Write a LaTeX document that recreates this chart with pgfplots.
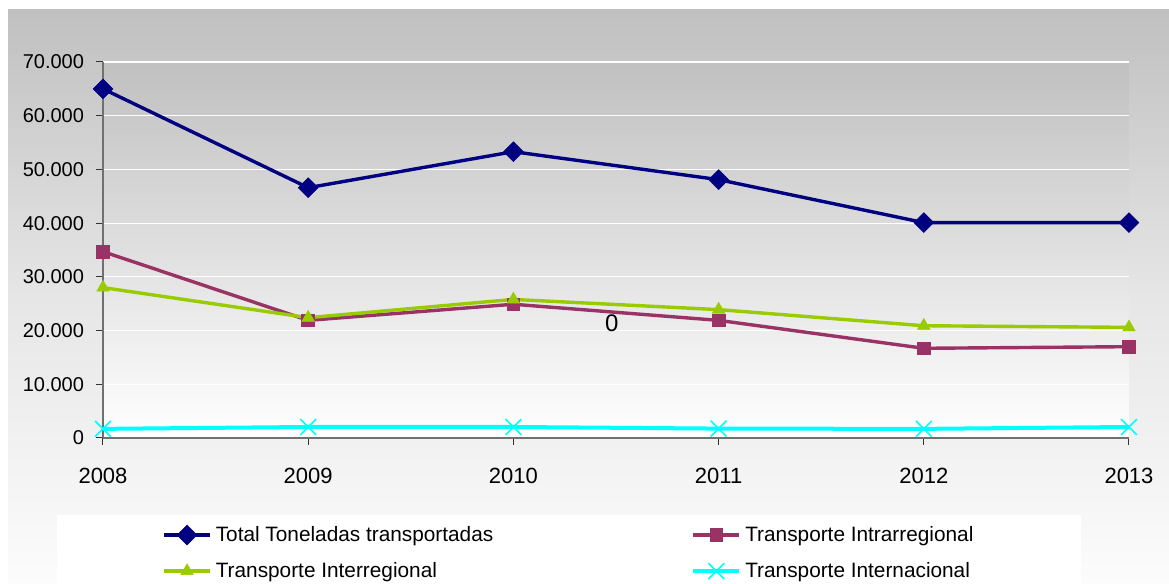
\documentclass[border=0pt]{standalone}
\usepackage{pgfplots}
\pgfplotsset{compat=1.18}
\usepackage{fontspec}
\setmainfont{Liberation Sans}

\definecolor{totalc}{HTML}{000080}
\definecolor{intrac}{HTML}{993366}
\definecolor{interc}{HTML}{99CC00}
\definecolor{internc}{HTML}{00FFFF}
\definecolor{bgtop}{HTML}{C0C0C0}
\definecolor{bgmid}{HTML}{E6E6E6}
\definecolor{bgbot}{HTML}{FCFCFC}
\definecolor{axisc}{HTML}{707070}

% chart area background: gray at the top fading to almost white
\pgfdeclareverticalshading{chartbg}{100bp}{color(0bp)=(bgbot); color(25bp)=(bgbot); color(50bp)=(bgmid); color(75bp)=(bgtop); color(100bp)=(bgtop)}

\begin{document}
\begin{tikzpicture}
\path[use as bounding box] (0,0) rectangle (584.5pt,292pt);
\fill[white] (0,0) rectangle (584.5pt,292pt);
\shade[shading=chartbg] (4pt,0) rectangle (584.5pt,287pt);
% legend panel
\fill[white] (28.5pt,0) rectangle (540.5pt,34.5pt);

\begin{axis}[
  at={(51.5pt,73pt)}, anchor=south west,
  scale only axis, width=513pt, height=188pt,
  xmin=2008, xmax=2013, ymin=0, ymax=70000,
  clip=false,
  scaled y ticks=false,
  axis lines=left,
  axis line style={-, draw=axisc, line width=0.7pt},
  axis background/.style={shade, top color=bgtop, bottom color=white},
  xtick={2008,2009,2010,2011,2012,2013},
  xticklabels={2008,2009,2010,2011,2012,2013},
  ytick={0,10000,20000,30000,40000,50000,60000,70000},
  yticklabels={0,10.000,20.000,30.000,40.000,50.000,60.000,70.000},
  /pgf/number format/assume math mode=true,
  tick align=outside,
  major tick length=3.5pt,
  tick style={draw=black!80, line width=0.5pt},
  ymajorgrids, major grid style={white, line width=0.6pt},
  yticklabel style={font=\fontsize{10}{12}\selectfont, xshift=-2.5pt},
  xticklabel style={font=\fontsize{11}{13}\selectfont, yshift=-8pt},
  legend columns=2,
  legend cell align=left,
  legend style={at={(axis description cs:0.0575,-0.306)}, anchor=west,
    draw=none, fill=none, inner sep=0pt,
    font=\fontsize{10.4}{12}\selectfont, row sep=5pt,
    /tikz/every even column/.append style={column sep=97pt}},
  legend image code/.code={\draw[mark repeat=2,mark phase=2,#1] plot coordinates {(0pt,0pt) (11.5pt,0pt) (23pt,0pt)};},
  every axis plot/.append style={line width=1.7pt},
]

\addplot[color=totalc, mark=square*, mark size=3.5pt, mark options={solid, rotate=45, line width=0.3pt}]
  coordinates {(2008,65000) (2009,46600) (2010,53300) (2011,48100) (2012,40100) (2013,40100)};
\addlegendentry{Total Toneladas transportadas}

\addplot[color=intrac, mark=square*, mark size=3.2pt, mark options={solid, line width=0.3pt}]
  coordinates {(2008,34700) (2009,21900) (2010,24900) (2011,21900) (2012,16700) (2013,17000)};
\addlegendentry{Transporte Intrarregional}

\addplot[color=interc, mark=triangle*, mark size=3.6pt, mark options={solid, line width=0.3pt}]
  coordinates {(2008,28000) (2009,22400) (2010,25800) (2011,23900) (2012,20900) (2013,20600)};
\addlegendentry{Transporte Interregional}

\addplot[color=internc, line width=2pt, mark=x, mark size=5.6pt, mark options={solid, line width=0.8pt}]
  coordinates {(2008,1700) (2009,2050) (2010,2050) (2011,1750) (2012,1700) (2013,2050)};
\addlegendentry{Transporte Internacional}

\node[font=\fontsize{12}{14}\selectfont, text=black] at (axis cs:2010.48,21350) {0};
\end{axis}
\end{tikzpicture}
\end{document}
